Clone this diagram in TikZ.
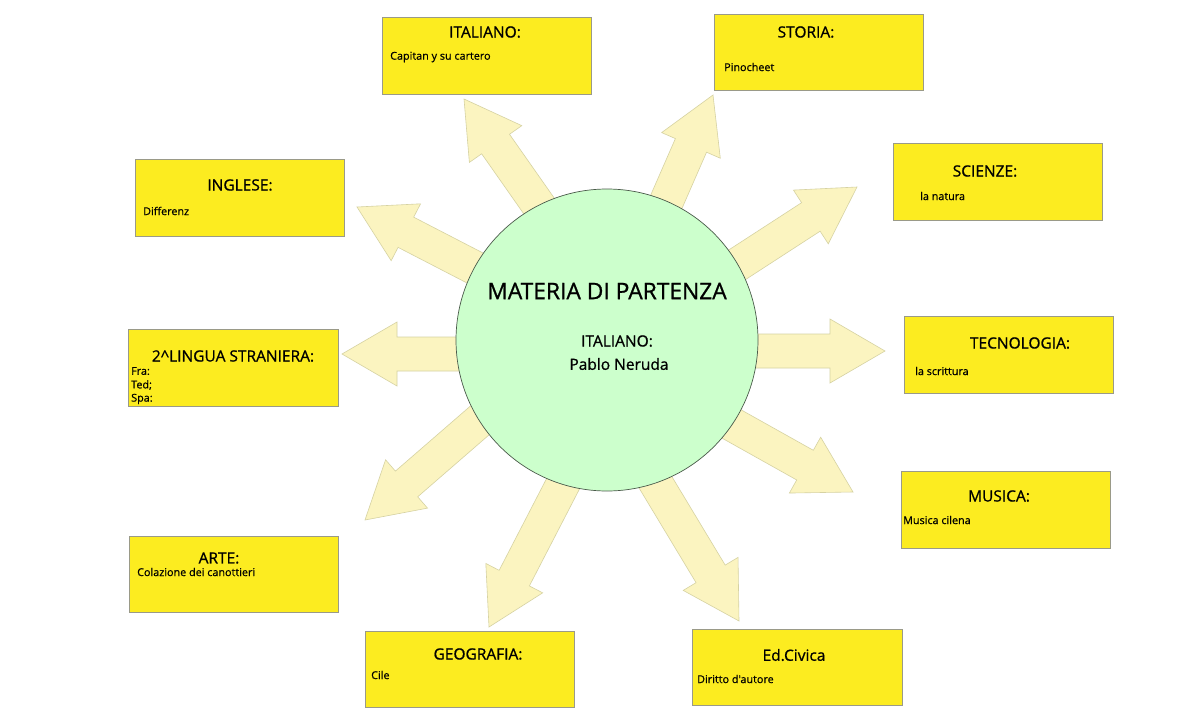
\documentclass[tikz,border=0pt]{standalone}
\usepackage{fontspec}
\setmainfont{Open Sans}
\newfontfamily\medfont{Open Sans}[FakeBold=0.9]
\newfontfamily\lightmed{Open Sans}[FakeBold=0.6]
\usetikzlibrary{calc}
\definecolor{boxyellow}{HTML}{FCEC20}
\definecolor{boxline}{HTML}{9A9A88}
\definecolor{arrfill}{HTML}{FBF4C0}
\definecolor{arrline}{HTML}{D6D2A2}
\definecolor{circfill}{HTML}{CCFFCC}
\definecolor{circline}{HTML}{4A5A4A}
\tikzset{
  box/.style={draw=boxline, line width=0.8pt, fill=boxyellow, anchor=north west, inner sep=0pt},
  ttl/.style={font=\medfont\fontsize{15.5}{17}\selectfont, inner sep=0pt},
  bdy/.style={font=\lightmed\fontsize{10.8}{12}\selectfont, anchor=west, inner sep=0pt},
  barrow/.style={draw=arrline, line width=0.6pt, fill=arrfill, line join=miter},
  hub/.style={circle, draw=circline, line width=0.7pt, fill=circfill, minimum size=302pt, inner sep=0pt}
}
\newcommand\blockarrow[2]{%
  \path ($(#2)!55pt!(#1)$) coordinate (hb);
  \draw[barrow] ($(#1)!17pt!90:(#2)$) -- ($(hb)!17pt!90:(#2)$) -- ($(hb)!32pt!90:(#2)$) -- (#2)
    -- ($(hb)!32pt!-90:(#2)$) -- ($(hb)!17pt!-90:(#2)$) -- ($(#1)!17pt!-90:(#2)$) -- cycle;
}
\begin{document}
\begin{tikzpicture}[x=1pt,y=-1pt]
\useasboundingbox[fill=white] (0,0) rectangle (1200,728);

% arrow base and tip coordinates
\coordinate (s1) at (579,263); \coordinate (t1) at (464,99);
\coordinate (s2) at (633,278); \coordinate (t2) at (713,95);
\coordinate (s3) at (535,299); \coordinate (t3) at (357,207);
\coordinate (s4) at (689,296); \coordinate (t4) at (857,187);
\coordinate (s5) at (685,351); \coordinate (t5) at (885,351);
\coordinate (s6) at (678,394); \coordinate (t6) at (853,492);
\coordinate (s7) at (636,450); \coordinate (t7) at (739,621);
\coordinate (s8) at (581,449); \coordinate (t8) at (489,627);
\coordinate (s9) at (516,389); \coordinate (t9) at (365,520);
\coordinate (s10) at (542,354); \coordinate (t10) at (342,354);

\foreach \i in {1,...,10} { \blockarrow{s\i}{t\i} }

% central circle
\node[hub] (c) at (607,340) {};
\node[font=\medfont\fontsize{22.8}{26}\selectfont, inner sep=0pt] (ctitle) at (607,291) {MATERIA DI PARTENZA};
\node[ttl] (csub) at (617,341) {ITALIANO:};
\node[ttl] (cname) at (619,364) {Pablo Neruda};

% boxes
\node[box, minimum width=209pt, minimum height=77pt] (b1) at (382,17) {};
\node[ttl] (b1t) at (485,32) {ITALIANO:};
\node[bdy] (b1b) at (390,57) {Capitan y su cartero};

\node[box, minimum width=209pt, minimum height=76pt] (b2) at (714,14) {};
\node[ttl] (b2t) at (806,32) {STORIA:};
\node[bdy] (b2b) at (724,67) {Pinocheet};

\node[box, minimum width=209pt, minimum height=77pt] (b3) at (135,159) {};
\node[ttl] (b3t) at (240,185) {INGLESE:};
\node[bdy] (b3b) at (143,211) {Differenz};

\node[box, minimum width=209pt, minimum height=77pt] (b4) at (893,143) {};
\node[ttl] (b4t) at (985,171) {SCIENZE:};
\node[bdy] (b4b) at (920,196) {la natura};

\node[box, minimum width=210pt, minimum height=77pt] (b5) at (128,329) {};
\node[ttl] (b5t) at (233,356) {2\textasciicircum LINGUA STRANIERA:};
\node[bdy] (b5a) at (131,371) {Fra:};
\node[bdy] (b5b) at (131,385) {Ted;};
\node[bdy] (b5c) at (131,399) {Spa:};

\node[box, minimum width=209pt, minimum height=77pt] (b6) at (904,316) {};
\node[ttl] (b6t) at (1020,343) {TECNOLOGIA:};
\node[bdy] (b6b) at (915,371) {la scrittura};

\node[box, minimum width=209pt, minimum height=77pt] (b7) at (901,471) {};
\node[ttl] (b7t) at (999,496) {MUSICA:};
\node[bdy] (b7b) at (903,520) {Musica cilena};

\node[box, minimum width=209pt, minimum height=76pt] (b8) at (129,536) {};
\node[ttl] (b8t) at (219,558) {ARTE:};
\node[bdy] (b8b) at (137,572) {Colazione dei canottieri};

\node[box, minimum width=209pt, minimum height=76pt] (b9) at (365,631) {};
\node[ttl] (b9t) at (478,654) {GEOGRAFIA:};
\node[bdy] (b9b) at (371,675) {Cile};

\node[box, minimum width=210pt, minimum height=76pt] (b10) at (692,629) {};
\node[ttl] (b10t) at (794,655) {Ed.Civica};
\node[bdy] (b10b) at (697,679) {Diritto d'autore};
\end{tikzpicture}
\end{document}
